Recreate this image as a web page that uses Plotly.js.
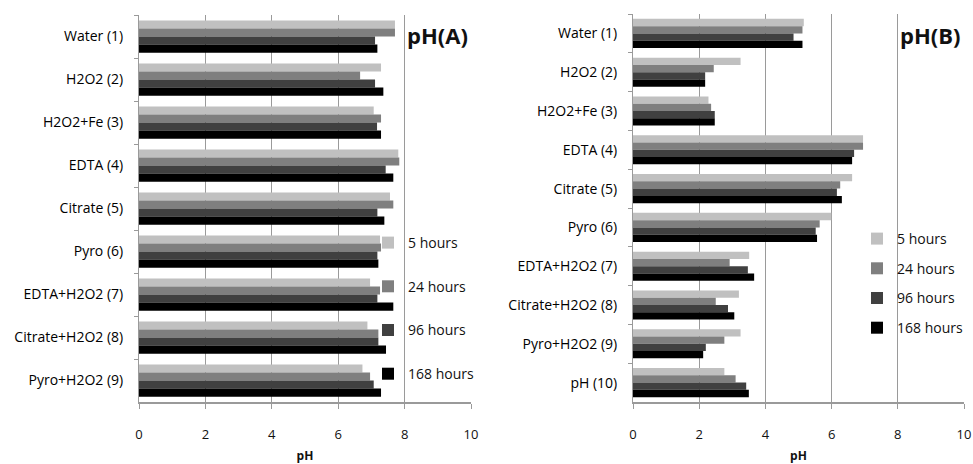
<!DOCTYPE html>
<html>
<head>
<meta charset="utf-8">
<script src="https://cdn.plot.ly/plotly-3.0.1.min.js"></script>
<style>html,body{margin:0;padding:0;background:#fff;}#chart{width:973px;height:464px;}</style>
</head>
<body>
<div id="chart"></div>
<script>
// ---- Data ----
const seriesNames = ["5 hours", "24 hours", "96 hours", "168 hours"];
const seriesColors = ["#c0c0c0", "#7f7f7f", "#404040", "#000000"];

const categoriesA = ["Water (1)", "H2O2 (2)", "H2O2+Fe (3)", "EDTA (4)", "Citrate (5)", "Pyro (6)", "EDTA+H2O2 (7)", "Citrate+H2O2 (8)", "Pyro+H2O2 (9)"];
const phA_5h   = [7.71, 7.29, 7.07, 7.81, 7.56, 7.26, 6.96, 6.88, 6.73];
const phA_24h  = [7.71, 6.66, 7.29, 7.84, 7.66, 7.29, 7.26, 7.21, 6.96];
const phA_96h  = [7.11, 7.11, 7.17, 7.43, 7.18, 7.18, 7.18, 7.21, 7.07];
const phA_168h = [7.18, 7.36, 7.29, 7.66, 7.39, 7.21, 7.66, 7.44, 7.29];

const categoriesB = ["Water (1)", "H2O2 (2)", "H2O2+Fe (3)", "EDTA (4)", "Citrate (5)", "Pyro (6)", "EDTA+H2O2 (7)", "Citrate+H2O2 (8)", "Pyro+H2O2 (9)", "pH (10)"];
const phB_5h   = [5.16, 3.25, 2.28, 6.95, 6.62, 5.99, 3.51, 3.20, 3.25, 2.76];
const phB_24h  = [5.12, 2.44, 2.36, 6.95, 6.26, 5.64, 2.92, 2.50, 2.76, 3.10];
const phB_96h  = [4.85, 2.18, 2.47, 6.68, 6.16, 5.52, 3.47, 2.87, 2.20, 3.42];
const phB_168h = [5.12, 2.18, 2.47, 6.62, 6.31, 5.56, 3.66, 3.06, 2.12, 3.50];

const xTicks = [0, 2, 4, 6, 8, 10];
const xTitle = "pH";
const panelTitles = ["pH(A)", "pH(B)"];

// ---- Build traces ----
const seriesA = [phA_5h, phA_24h, phA_96h, phA_168h];
const seriesB = [phB_5h, phB_24h, phB_96h, phB_168h];
const traces = [];
seriesA.forEach((vals, i) => {
  traces.push({type: "bar", orientation: "h", x: vals, y: categoriesA, name: seriesNames[i],
    marker: {color: seriesColors[i]}, xaxis: "x", yaxis: "y", legend: "legend", legendgroup: "a" + i});
});
seriesB.forEach((vals, i) => {
  traces.push({type: "bar", orientation: "h", x: vals, y: categoriesB, name: seriesNames[i],
    marker: {color: seriesColors[i]}, xaxis: "x2", yaxis: "y2", legend: "legend2", legendgroup: "b" + i});
});

const font = "Open Sans, Noto Sans, sans-serif";
const xaxisBase = {
  range: [0, 10], tickvals: xTicks, ticktext: xTicks.map(String), showgrid: true, gridcolor: "#9a9a9a", gridwidth: 1,
  zeroline: false, showline: true, linecolor: "#9a9a9a", linewidth: 2, ticks: "outside", ticklen: 5,
  tickcolor: "#9a9a9a", tickfont: {family: font, size: 13, color: "#111"}, ticklabelstandoff: 14,
  title: {text: xTitle, font: {family: font, size: 12, color: "#111", weight: "bold"}, standoff: 12},
  fixedrange: true, automargin: false
};
const yaxisBase = {
  type: "category", autorange: "reversed", showgrid: false, zeroline: false, showline: true,
  linecolor: "#9a9a9a", linewidth: 1, ticks: "outside", ticklen: 4, tickcolor: "#9a9a9a",
  tickson: "boundaries", tickfont: {family: font, size: 14, color: "#000"}, ticklabelstandoff: 12,
  fixedrange: true, automargin: false
};

const legendBase = {
  bgcolor: "rgba(0,0,0,0)", font: {family: font, size: 14, color: "#111"},
  traceorder: "grouped", xanchor: "left", yanchor: "top", itemwidth: 30, orientation: "v"
};

const layout = {
  width: 973, height: 464, margin: {l: 0, r: 0, t: 0, b: 0},
  paper_bgcolor: "#fff", plot_bgcolor: "#fff",
  barmode: "group", bargap: 0.25, bargroupgap: 0,
  xaxis: Object.assign({}, xaxisBase, {domain: [139/973, 471/973], anchor: "y"}),
  yaxis: Object.assign({}, yaxisBase, {domain: [62/464, 449/464], anchor: "x"}),
  xaxis2: Object.assign({}, xaxisBase, {domain: [633/973, 964/973], anchor: "y2"}),
  yaxis2: Object.assign({}, yaxisBase, {domain: [62/464, 450/464], anchor: "x2"}),
  legend: Object.assign({}, legendBase, {x: 368/973, y: 1 - 227/464, tracegroupgap: 22.5}),
  legend2: Object.assign({}, legendBase, {x: 857/973, y: 1 - 223/464, tracegroupgap: 8.5}),
  annotations: [
    {text: panelTitles[0], xref: "paper", yref: "paper", x: 437/973, y: 1 - 35/464, showarrow: false,
      xanchor: "center", yanchor: "middle", font: {family: font, size: 22, color: "#111", weight: "bold"}},
    {text: panelTitles[1], xref: "paper", yref: "paper", x: 930/973, y: 1 - 35/464, showarrow: false,
      xanchor: "center", yanchor: "middle", font: {family: font, size: 22, color: "#111", weight: "bold"}}
  ],
  showlegend: true
};

Plotly.newPlot("chart", traces, layout, {displayModeBar: false, staticPlot: true});
</script>
</body>
</html>
